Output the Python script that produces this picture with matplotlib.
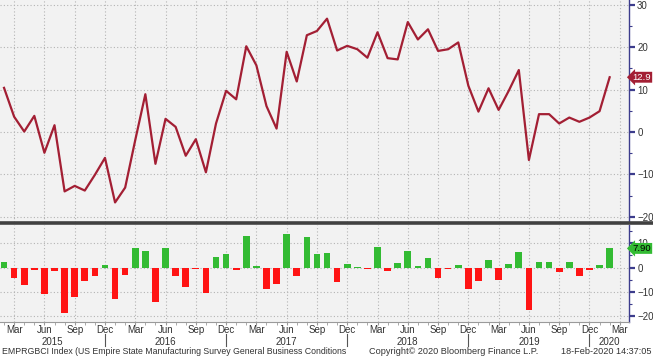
import matplotlib
matplotlib.use("Agg")
import matplotlib.pyplot as plt
import matplotlib.transforms as mtransforms
import numpy as np
import pandas as pd

# Empire State general business conditions, monthly Feb-2015 .. Feb-2020
months = pd.date_range("2015-02-01", periods=61, freq="MS")
index_level = [10.4, 3.6, 0.1, 3.8, -4.9, 1.6, -14.0, -12.7, -13.8, -10.1, -6.1,
               -16.6, -13.1, -1.9, 8.9, -7.5, 3.1, 1.2, -5.6, -1.7, -9.5, 2.0,
               9.7, 7.7, 20.2, 15.7, 6.1, 0.8, 18.9, 11.9, 22.8, 23.8, 26.7,
               19.2, 20.3, 19.5, 17.5, 23.5, 17.4, 17.1, 25.9, 21.8, 24.2, 19.1, 19.5, 21.1,
               10.9, 4.8, 10.3, 5.2, 9.7, 14.6, -6.6, 4.2, 4.2, 2.0, 3.4, 2.4, 3.4, 4.9, 12.9]
monthly_change = [2.4, -4.4, -7.1, -1.1, -10.7, -1.4, -18.5, -12.2, -5.7, -3.3, 1.1,
                  -12.8, -3.0, 8.0, 6.8, -14.1, 8.2, -3.5, -7.8, -0.5, -10.5, 4.5,
                  5.6, -1.1, 13.1, 0.5, -8.8, -6.9, 13.9, -3.3, 12.7, 5.6, 6.1,
                  -6.1, 1.4, 0.4, -0.7, 8.6, -1.2, 1.9, 6.9, 0.5, 4.1, -4.2, -0.7, 1.1,
                  -8.8, -5.3, 3.3, -5.0, 1.4, 6.4, -17.6, 2.2, 2.2, -2.0, 2.2, -3.5, -0.8, 1.1, 7.9]
last_level = "12.9"
last_change = "7.90"

line_col = "#a31f34"
green = "#33bb33"
red = "#ff1414"
bg = "#f2f2f2"
axis_col = "#3c3c8c"
txt_col = "#333333"
font = ["Liberation Sans", "DejaVu Sans"]
fs = 6.6

x = np.arange(len(months))
tick_pos = np.arange(1, 62, 3)
tick_lab = [d.strftime("%b") for d in pd.date_range("2015-03-01", periods=len(tick_pos), freq="3MS")]
xlim = (-0.4, 61.9)

fig = plt.figure(figsize=(6.53, 3.58), dpi=100)
fig.patch.set_facecolor("white")
ax1 = fig.add_axes([0, 0.380, 0.963, 0.620])
ax2 = fig.add_axes([0, 0.101, 0.963, 0.271])

ax1.plot(x, index_level, color=line_col, lw=1.6, zorder=3)
ax2.bar(x, monthly_change, width=0.66,
        color=[green if v >= 0 else red for v in monthly_change], zorder=3)

ax1.set_ylim(-21.2, 31.1)
ax2.set_ylim(-22.3, 17.6)
ax1.set_yticks([-20, -10, 0, 10, 20, 30])
ax1.set_yticks([-15, -5, 5, 15, 25], minor=True)
ax2.set_yticks([-20, -10, 0, 10])
ax2.set_yticks([-15, -5, 5, 15], minor=True)

for ax in (ax1, ax2):
    ax.set_facecolor(bg)
    ax.set_xlim(*xlim)
    ax.set_xticks(tick_pos)
    ax.set_xticks(x, minor=True)
    ax.grid(True, which="major", color="#b4b4b4", ls=(0, (1, 2)), lw=0.8)
    ax.yaxis.tick_right()
    ax.tick_params(axis="y", which="major", length=4, width=1.6, color=axis_col,
                   labelsize=fs + 0.4, labelcolor=txt_col, pad=2)
    ax.tick_params(axis="y", which="minor", length=2.5, width=0.8, color=axis_col)
    ax.spines["left"].set_visible(False)
    ax.spines["top"].set_visible(False)
    ax.spines["right"].set_color(axis_col)
    ax.spines["right"].set_linewidth(1.0)
    for lab in ax.get_yticklabels():
        lab.set_family(font)

ax1.tick_params(axis="x", which="both", length=0, labelbottom=False)
ax1.spines["bottom"].set_visible(False)

ax2.spines["top"].set_visible(False)
ax2.spines["bottom"].set_color("#9a9a9a")
ax2.set_xticklabels(tick_lab)
ax2.tick_params(axis="x", which="major", length=2, color="#9a9a9a", labelsize=fs + 0.4,
                labelcolor=txt_col, pad=0.5)
ax2.tick_params(axis="x", which="minor", length=2, color="#9a9a9a")
for lab in ax2.get_xticklabels():
    lab.set_family(font)

# dark divider between the two panels, full width
fig.add_artist(plt.Line2D([0, 1], [0.3775, 0.3775], transform=fig.transFigure,
                          color="#404040", lw=2.6, zorder=10))

# year row with separators under each December
trans = mtransforms.blended_transform_factory(ax2.transData, fig.transFigure)
dec_pos = [10, 22, 34, 46, 58]
years = ["2015", "2016", "2017", "2018", "2019", "2020"]
edges = [xlim[0]] + dec_pos + [xlim[1]]
for i, yr in enumerate(years):
    fig.text((edges[i] + edges[i + 1]) / 2, 0.046, yr, transform=trans, ha="center",
             va="center", fontsize=fs + 0.4, color=txt_col, family=font)
for d in dec_pos:
    fig.add_artist(plt.Line2D([d, d], [0.033, 0.068], transform=trans, color="#555555", lw=0.8))

# last value tags
for ax, val, fc, tc in ((ax1, last_level, line_col, "white"), (ax2, last_change, green, "black")):
    tr = mtransforms.blended_transform_factory(ax.transAxes, ax.transData)
    ax.text(1.006, float(val), val, transform=tr, ha="left", va="center", fontsize=fs + 0.2,
            color=tc, family=font, zorder=5, clip_on=False,
            bbox=dict(boxstyle="larrow,pad=0.1", fc=fc, ec="none"))

fig.text(0.003, 0.017, "EMPRGBCI Index (US Empire State Manufacturing Survey General Business Conditions",
         ha="left", va="center", fontsize=6.3, color=txt_col, family=font)
fig.text(0.695, 0.017, "Copyright\u00a9 2020 Bloomberg Finance L.P.",
         ha="center", va="center", fontsize=fs, color=txt_col, family=font)
fig.text(0.997, 0.017, "18-Feb-2020 14:37:05",
         ha="right", va="center", fontsize=fs, color=txt_col, family=font)

fig.savefig("out.png", dpi=100, facecolor="white")
